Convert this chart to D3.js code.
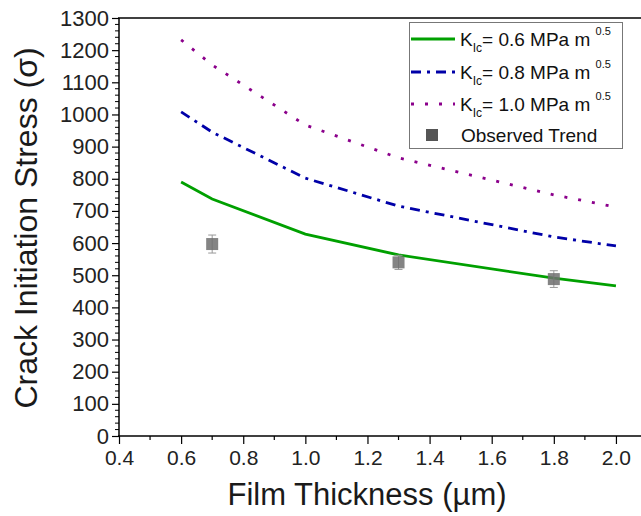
<html>
<head>
    <style>
        body { margin: 0; background: #fff; }
        text { font-family: Arial, "Liberation Sans", sans-serif; }
    </style>
</head>
<body>
    <script src="https://d3js.org/d3.v7.min.js"></script>
    <script>
        var width = 641, height = 516;

        // thickness values (µm) where the model curves were evaluated
        var thickness = [0.6, 0.7, 1.0, 1.3, 1.8, 2.0];
        var stressK06 = [790, 737, 628, 563, 491, 467];
        var stressK08 = [1008, 945, 802, 715, 619, 591];
        var stressK10 = [1232, 1154, 967, 865, 750, 712];

        // observed points
        var obsThickness = [0.7, 1.3, 1.8];
        var obsStress = [597, 540, 488];
        var obsError = [28, 22, 26];

        var xTicks = [0.4, 0.6, 0.8, 1.0, 1.2, 1.4, 1.6, 1.8, 2.0];
        var yTicks = d3.range(0, 1301, 100);

        var svg = d3.select("body").append("svg")
            .attr("width", width)
            .attr("height", height);

        var x = d3.scaleLinear().domain([0.4, 2.1]).range([119, 647]);
        var y = d3.scaleLinear().domain([0, 1300]).range([436, 18]);

        // top frame line
        svg.append("line")
            .attr("x1", 118).attr("x2", width)
            .attr("y1", y(1300)).attr("y2", y(1300))
            .attr("stroke", "#000").attr("stroke-width", 1.5);

        // x axis
        var xAxis = svg.append("g")
            .attr("transform", "translate(0," + y(0) + ")")
            .call(d3.axisBottom(x).tickValues(xTicks).tickFormat(d3.format(".1f")).tickSize(8).tickPadding(6));
        xAxis.select(".domain").attr("d", "M118,0H" + width).attr("stroke-width", 1.5);
        xAxis.selectAll("text").attr("font-size", 21).attr("fill", "#222");
        xAxis.selectAll("line").attr("stroke-width", 1.2);
        xAxis.selectAll(".minor").data(d3.range(0.5, 2.1, 0.2)).enter().append("line")
            .attr("class", "minor")
            .attr("x1", d => x(d)).attr("x2", d => x(d))
            .attr("y1", 0).attr("y2", 4)
            .attr("stroke", "#000").attr("stroke-width", 1.2);

        // y axis
        var yAxis = svg.append("g")
            .attr("transform", "translate(" + x(0.4) + ",0)")
            .call(d3.axisLeft(y).tickValues(yTicks).tickFormat(d3.format("d")).tickSize(7).tickPadding(3));
        yAxis.select(".domain").attr("d", "M0," + y(0) + "V" + y(1300)).attr("stroke-width", 1.5);
        yAxis.selectAll("text").attr("font-size", 22).attr("fill", "#222");
        yAxis.selectAll("line").attr("stroke-width", 1.2);
        yAxis.selectAll(".minor").data(d3.range(0, 1300, 20).filter(d => d % 100 != 0)).enter().append("line")
            .attr("class", "minor")
            .attr("y1", d => y(d)).attr("y2", d => y(d))
            .attr("x1", 0).attr("x2", -4)
            .attr("stroke", "#000").attr("stroke-width", 1);

        // axis titles
        svg.append("text")
            .attr("x", 367).attr("y", 505)
            .attr("text-anchor", "middle")
            .attr("font-size", 31).attr("fill", "#1a1a1a")
            .text("Film Thickness (µm)");
        svg.append("text")
            .attr("transform", "translate(37," + 228 + ") rotate(-90)")
            .attr("text-anchor", "middle")
            .attr("font-size", 32).attr("fill", "#1a1a1a")
            .text("Crack Initiation Stress (σ)");

        var series = [
            { values: stressK06, color: "#00a000", dash: null },
            { values: stressK08, color: "#0000a8", dash: "10,6,3,6" },
            { values: stressK10, color: "#8b008b", dash: "3,11" }
        ];

        var line = d3.line().x(d => x(d[0])).y(d => y(d[1]));

        series.forEach(function (s) {
            svg.append("path")
                .datum(thickness.map((t, i) => [t, s.values[i]]))
                .attr("d", line)
                .attr("fill", "none")
                .attr("stroke", s.color)
                .attr("stroke-width", 2.8)
                .attr("stroke-dasharray", s.dash);
        });

        // observed points with error bars
        var obs = svg.append("g").selectAll("g")
            .data(obsThickness.map((t, i) => ({ t: t, v: obsStress[i], e: obsError[i] })))
            .enter().append("g");
        obs.append("line")
            .attr("x1", d => x(d.t)).attr("x2", d => x(d.t))
            .attr("y1", d => y(d.v + d.e)).attr("y2", d => y(d.v - d.e))
            .attr("stroke", "#999").attr("stroke-width", 1);
        obs.selectAll(".cap").data(d => [[d.t, d.v + d.e], [d.t, d.v - d.e]]).enter().append("line")
            .attr("x1", d => x(d[0]) - 4).attr("x2", d => x(d[0]) + 4)
            .attr("y1", d => y(d[1])).attr("y2", d => y(d[1]))
            .attr("stroke", "#999").attr("stroke-width", 1);
        obs.append("rect")
            .attr("x", d => x(d.t) - 6).attr("y", d => y(d.v) - 6)
            .attr("width", 12).attr("height", 12)
            .attr("fill", "#6e6e6e").attr("fill-opacity", 0.85);

        // legend
        var legend = svg.append("g");
        legend.append("rect")
            .attr("x", 409.5).attr("y", 22.5)
            .attr("width", 213).attr("height", 126)
            .attr("fill", "#fff").attr("stroke", "#777").attr("stroke-width", 1);

        var legendLabels = ["0.6", "0.8", "1.0"];
        var rowY = [39, 72, 104, 135];

        series.forEach(function (s, i) {
            legend.append("line")
                .attr("x1", 411).attr("x2", 455)
                .attr("y1", rowY[i]).attr("y2", rowY[i])
                .attr("stroke", s.color).attr("stroke-width", 2.8)
                .attr("stroke-dasharray", s.dash);
            var t = legend.append("text")
                .attr("x", 460).attr("y", rowY[i] + 7)
                .attr("font-size", 19).attr("fill", "#111");
            t.append("tspan").text("K");
            t.append("tspan").attr("font-size", 12).attr("dy", 6).text("Ic");
            t.append("tspan").attr("dy", -6).text("= " + legendLabels[i] + " MPa m ");
            t.append("tspan").attr("font-size", 11).attr("dy", -11).text("0.5");
        });

        legend.append("rect")
            .attr("x", 426).attr("y", rowY[3] - 6)
            .attr("width", 12).attr("height", 12)
            .attr("fill", "#555");
        legend.append("text")
            .attr("x", 461).attr("y", rowY[3] + 7)
            .attr("font-size", 19).attr("fill", "#111")
            .text("Observed Trend");
    </script>
</body>
</html>
